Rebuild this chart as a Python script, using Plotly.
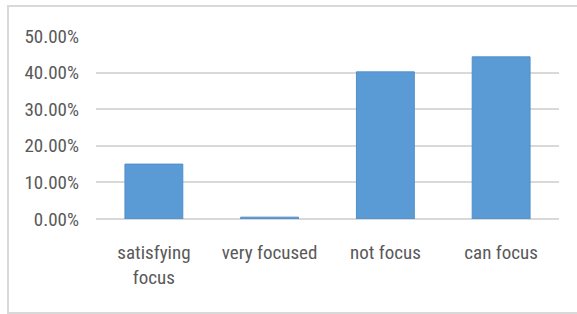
import plotly.graph_objects as go

categories = ["satisfying<br>focus", "very focused", "not focus", "can focus"]
values = [0.15, 0.005, 0.402, 0.443]
tick_vals = [0, 0.1, 0.2, 0.3, 0.4, 0.5]
tick_text = ["0.00%", "10.00%", "20.00%", "30.00%", "40.00%", "50.00%"]

FONT = "Liberation Sans Narrow, Roboto Condensed, Arial Narrow, Liberation Sans, sans-serif"

fig = go.Figure(go.Bar(
    x=categories, y=values,
    marker=dict(color="#5b9bd5", line=dict(color="#4f8fcc", width=1)),
    width=0.5,
))

L, R, T, B = 96, 18, 36, 95
W, H = 577, 314
pw, ph = W - L - R, H - T - B

def px_x(p):
    return (p - L) / pw

def px_y(p):
    return (H - B - p) / ph

fig.add_shape(type="rect", xref="paper", yref="paper",
              x0=px_x(8), x1=px_x(590), y0=px_y(313), y1=px_y(6),
              line=dict(color="#d9d9d9", width=2), layer="below")

fig.update_layout(
    width=W, height=H,
    margin=dict(l=L, r=R, t=T, b=B),
    paper_bgcolor="white", plot_bgcolor="white",
    showlegend=False,
    font=dict(family=FONT, size=19, color="#595959"),
    bargap=0.5,
)
fig.update_xaxes(showgrid=False, showline=False, zeroline=False, ticks="",
                 tickfont=dict(size=19, color="#595959", family=FONT),
                 ticklabelstandoff=20)
fig.update_yaxes(range=[0, 0.5], tickvals=tick_vals, ticktext=tick_text,
                 showgrid=True, gridcolor="#d9d9d9", gridwidth=1.5,
                 zeroline=True, zerolinecolor="#d9d9d9", zerolinewidth=1.5,
                 showline=False, ticks="",
                 tickfont=dict(size=19, color="#595959", family=FONT),
                 ticklabelstandoff=16)

fig.write_html("out.html", config={"displayModeBar": False},
               post_script="document.body.style.margin='0';")
